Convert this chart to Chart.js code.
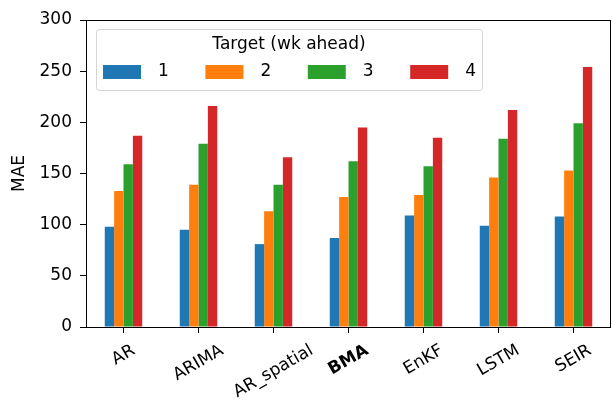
<!DOCTYPE html>
<html>
<head>
<meta charset="utf-8">
<script src="https://cdn.jsdelivr.net/npm/chart.js@4"></script>
<style>
  html, body { margin: 0; padding: 0; background: #fff; }
  #wrap { width: 612px; height: 402px; }
</style>
</head>
<body>
<div id="wrap"><canvas id="chart" width="612" height="402"></canvas></div>
<script>
const models = ["AR", "ARIMA", "AR_spatial", "BMA", "EnKF", "LSTM", "SEIR"];
const wk1 = [98, 95, 81, 87, 109, 99, 108];
const wk2 = [133, 139, 113, 127, 129, 146, 153];
const wk3 = [159, 179, 139, 162, 157, 184, 199];
const wk4 = [187, 216, 166, 195, 185, 212, 254];
const yTicks = [0, 50, 100, 150, 200, 250, 300];

const colors = ["#1f77b4", "#ff7f0e", "#2ca02c", "#d62728"];
const FONT = "'DejaVu Sans', sans-serif";
const SIZE = 17;

// matplotlib-style frame, centred rotated x labels and legend
const frameAndLegend = {
  id: "frameAndLegend",
  afterDraw(chart) {
    const { ctx, chartArea: a } = chart;
    ctx.save();
    ctx.strokeStyle = "#000";
    ctx.lineWidth = 1;
    ctx.strokeRect(a.left + 0.5, a.top + 0.5, a.right - a.left - 1, a.bottom - a.top);

    // x tick labels, rotated 30deg and centred on the tick
    const xs = chart.scales.x;
    const ang = 30 * Math.PI / 180;
    models.forEach((m, i) => {
      ctx.font = (m === "BMA" ? "bold " : "") + SIZE + "px " + FONT;
      const w = ctx.measureText(m).width;
      const bh = w * Math.sin(ang) + SIZE * Math.cos(ang);
      const cx = xs.getPixelForTick(i);
      const cy = a.bottom + 15 + bh / 2;
      ctx.save();
      ctx.translate(cx, cy);
      ctx.rotate(-ang);
      ctx.fillStyle = "#000";
      ctx.textAlign = "center";
      ctx.textBaseline = "middle";
      ctx.fillText(m, 0, 0);
      ctx.restore();
    });

    // legend
    const x0 = 96, y0 = 29, w = 386, h = 61;
    ctx.fillStyle = "rgba(255,255,255,0.8)";
    ctx.strokeStyle = "#d6d6d6";
    ctx.beginPath();
    ctx.roundRect(x0 + 0.5, y0 + 0.5, w, h, 3);
    ctx.fill();
    ctx.stroke();

    ctx.fillStyle = "#000";
    ctx.font = SIZE + "px " + FONT;
    ctx.textAlign = "center";
    ctx.textBaseline = "middle";
    ctx.fillText("Target (wk ahead)", x0 + w / 2, y0 + 16);

    ctx.textAlign = "left";
    chart.data.datasets.forEach((ds, i) => {
      const sx = 103 + i * 102.4;
      ctx.fillStyle = ds.backgroundColor;
      ctx.fillRect(sx, 65, 38, 14);
      ctx.fillStyle = "#000";
      ctx.fillText(ds.label, sx + 55, 72);
    });
    ctx.restore();
  }
};

new Chart(document.getElementById("chart"), {
  type: "bar",
  data: {
    labels: models,
    datasets: [
      { label: "1", data: wk1, backgroundColor: colors[0] },
      { label: "2", data: wk2, backgroundColor: colors[1] },
      { label: "3", data: wk3, backgroundColor: colors[2] },
      { label: "4", data: wk4, backgroundColor: colors[3] }
    ]
  },
  options: {
    responsive: false,
    animation: false,
    layout: { padding: { top: 20, right: 1, left: 0, bottom: 0 } },
    datasets: { bar: { categoryPercentage: 0.5, barPercentage: 1.0 } },
    plugins: {
      legend: { display: false },
      tooltip: { enabled: false }
    },
    scales: {
      x: {
        border: { display: false },
        grid: { display: true, drawOnChartArea: false, offset: false, tickLength: 6, tickColor: "#000" },
        ticks: { display: false },
        afterFit(scale) { scale.height = 75; }
      },
      y: {
        min: 0,
        max: 300,
        border: { display: false },
        grid: { display: true, drawOnChartArea: false, tickLength: 6, tickColor: "#000" },
        afterBuildTicks(scale) { scale.ticks = yTicks.map(v => ({ value: v })); },
        ticks: { color: "#000", padding: 8, font: { family: FONT, size: SIZE } },
        title: { display: true, text: "MAE", color: "#000", font: { family: FONT, size: SIZE }, padding: { top: 9, bottom: 0 } },
        afterFit(scale) { scale.width = 86; }
      }
    }
  },
  plugins: [frameAndLegend]
});
</script>
</body>
</html>
